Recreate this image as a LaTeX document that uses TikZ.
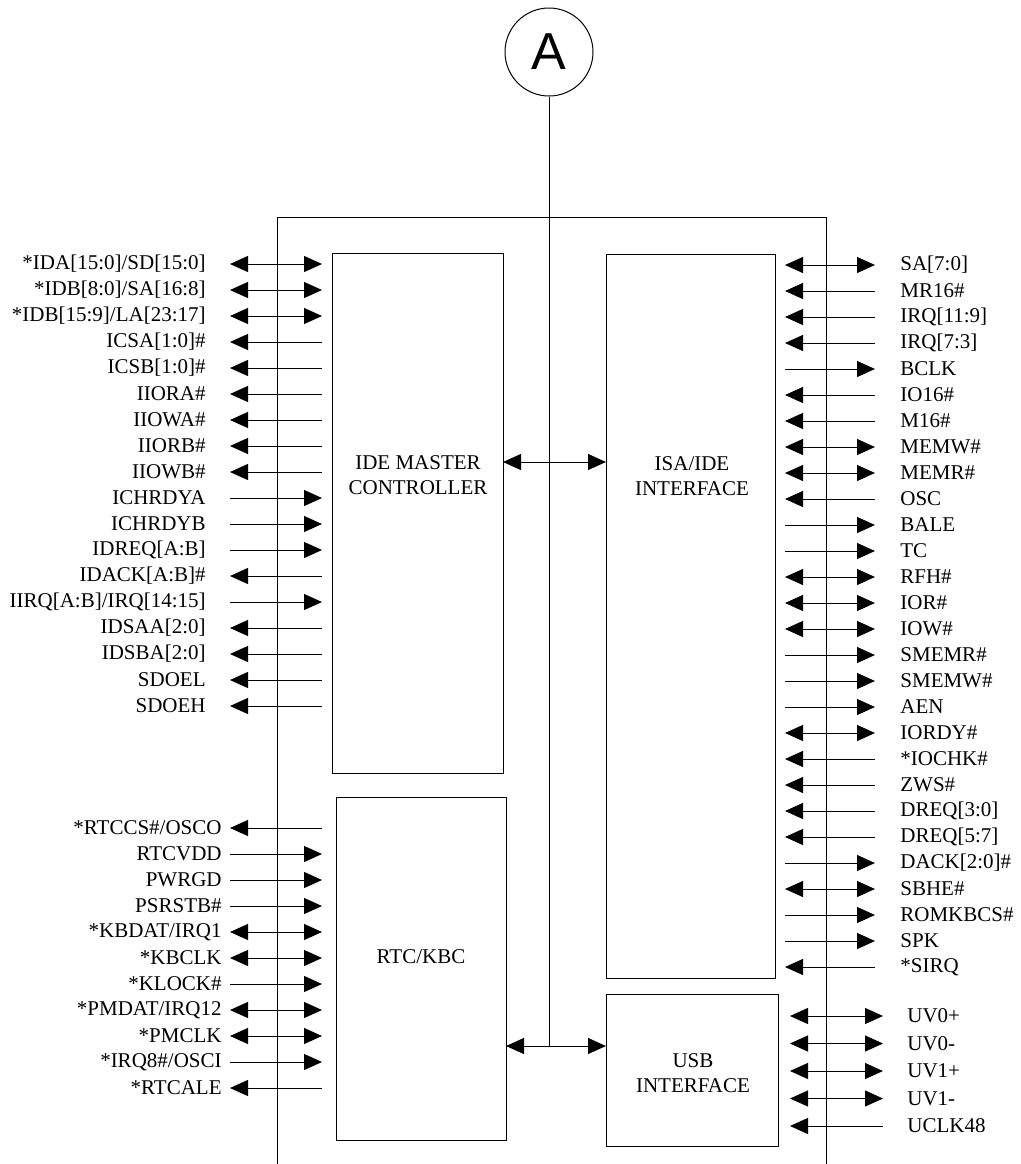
\documentclass[tikz,border=0pt]{standalone}
\usepackage{fontspec}
\setmainfont{Liberation Serif}
\newfontfamily\circfont{Liberation Sans}
\usetikzlibrary{arrows.meta}

\begin{document}
\begin{tikzpicture}[
  x=0.5pt, y=-0.5pt,
  every node/.style = {font=\fontsize{10.5}{12.5}\selectfont, inner sep=0pt},
  wire/.style = {line width=0.5pt, >={Triangle[length=9pt, width=8pt]}},
  tobox/.style = {wire, ->},
  frombox/.style = {wire, <-},
  twoway/.style = {wire, <->},
  block/.style = {draw, line width=0.5pt, anchor=north west, outer sep=0pt},
  sigL/.style = {anchor=east},
  sigR/.style = {anchor=west}]

  \useasboundingbox (0,0) rectangle (1021,1164);

  % ramec
  \coordinate (fBL) at (277,1164);
  \coordinate (fTL) at (277,217);
  \coordinate (fTR) at (826,217);
  \coordinate (fBR) at (826,1164);
  \draw[wire] (fBL) -- (fTL) -- (fTR) -- (fBR);

  % bloky
  \node[block, minimum width=85.5pt, minimum height=260pt] (ide) at (332,253) {};
  \node[block, minimum width=84.5pt, minimum height=362pt] (isa) at (606,254) {};
  \node[block, minimum width=85pt, minimum height=171.5pt] (rtc) at (336,797) {};
  \node[block, minimum width=86pt, minimum height=76pt] (usb) at (606,994) {};

  \node[align=center] (ideT) at (418,475) {IDE MASTER\\CONTROLLER};
  \node[align=center] (isaT) at (692,476) {ISA/IDE\\INTERFACE};
  \node (rtcT) at (421,957) {RTC/KBC};
  \node[align=center] (usbT) at (693,1073) {USB\\INTERFACE};

  % zbernica A
  \node[draw, circle, line width=0.5pt, minimum size=44pt,
        font=\circfont\fontsize{26}{26}\selectfont] (A) at (549,52) {A};
  \coordinate (busEnd) at (549,1046);
  \coordinate (busMid) at (549,462);
  \draw[wire] (A.south) -- (busEnd);
  \draw[twoway] (ide.east |- busMid) -- (isa.west |- busMid);
  \draw[twoway] (rtc.east |- busEnd) -- (usb.west |- busEnd);

  % signaly IDE
  \foreach \s/\d [count=\i from 0] in {
      {*IDA[15:0]/SD[15:0]}/twoway, {*IDB[8:0]/SA[16:8]}/twoway,
      {*IDB[15:9]/LA[23:17]}/twoway, ICSA[1:0]\#/frombox, ICSB[1:0]\#/frombox,
      IIORA\#/frombox, IIOWA\#/frombox, IIORB\#/frombox, IIOWB\#/frombox,
      ICHRDYA/tobox, ICHRDYB/tobox, IDREQ[A:B]/tobox, IDACK[A:B]\#/frombox,
      {IIRQ[A:B]/IRQ[14:15]}/tobox, IDSAA[2:0]/frombox, IDSBA[2:0]/frombox,
      SDOEL/frombox, SDOEH/frombox} {
    \node[sigL] (ideS\i) at (206, 264+26*\i) {\s};
    \coordinate (ideA\i) at (230, 264+26*\i);
    \coordinate (ideB\i) at (322, 264+26*\i);
    \draw[\d] (ideA\i) -- (ideB\i);
  }

  % signaly RTC/KBC
  \foreach \s/\d [count=\i from 0] in {
      {*RTCCS\#/OSCO}/frombox, RTCVDD/tobox, PWRGD/tobox, PSRSTB\#/tobox,
      {*KBDAT/IRQ1}/twoway, *KBCLK/twoway, *KLOCK\#/tobox,
      {*PMDAT/IRQ12}/twoway, *PMCLK/twoway, {*IRQ8\#/OSCI}/tobox,
      *RTCALE/frombox} {
    \node[sigL] (rtcS\i) at (222, 828+26*\i) {\s};
    \coordinate (rtcA\i) at (230, 828+26*\i);
    \coordinate (rtcB\i) at (322, 828+26*\i);
    \draw[\d] (rtcA\i) -- (rtcB\i);
  }

  % signaly ISA
  \foreach \s/\d [count=\i from 0] in {
      SA[7:0]/twoway, MR16\#/tobox, IRQ[11:9]/tobox, IRQ[7:3]/tobox,
      BCLK/frombox, IO16\#/tobox, M16\#/tobox, MEMW\#/twoway, MEMR\#/twoway,
      OSC/tobox, BALE/frombox, TC/frombox, RFH\#/twoway, IOR\#/twoway,
      IOW\#/twoway, SMEMR\#/frombox, SMEMW\#/frombox, AEN/frombox,
      IORDY\#/twoway, *IOCHK\#/tobox, ZWS\#/tobox, DREQ[3:0]/tobox,
      DREQ[5:7]/tobox, DACK[2:0]\#/frombox, SBHE\#/twoway,
      ROMKBCS\#/frombox, SPK/frombox, *SIRQ/tobox} {
    \node[sigR] (isaS\i) at (900, 265+26*\i) {\s};
    \coordinate (isaA\i) at (785, 265+26*\i);
    \coordinate (isaB\i) at (875, 265+26*\i);
    \draw[\d] (isaB\i) -- (isaA\i);
  }

  % signaly USB
  \foreach \s/\d [count=\i from 0] in {
      UV0+/twoway, UV0-/twoway, UV1+/twoway, UV1-/twoway, UCLK48/tobox} {
    \node[sigR] (usbS\i) at (907, 1016+27.5*\i) {\s};
    \coordinate (usbA\i) at (790, 1016+27.5*\i);
    \coordinate (usbB\i) at (883, 1016+27.5*\i);
    \draw[\d] (usbB\i) -- (usbA\i);
  }

\end{tikzpicture}
\end{document}
